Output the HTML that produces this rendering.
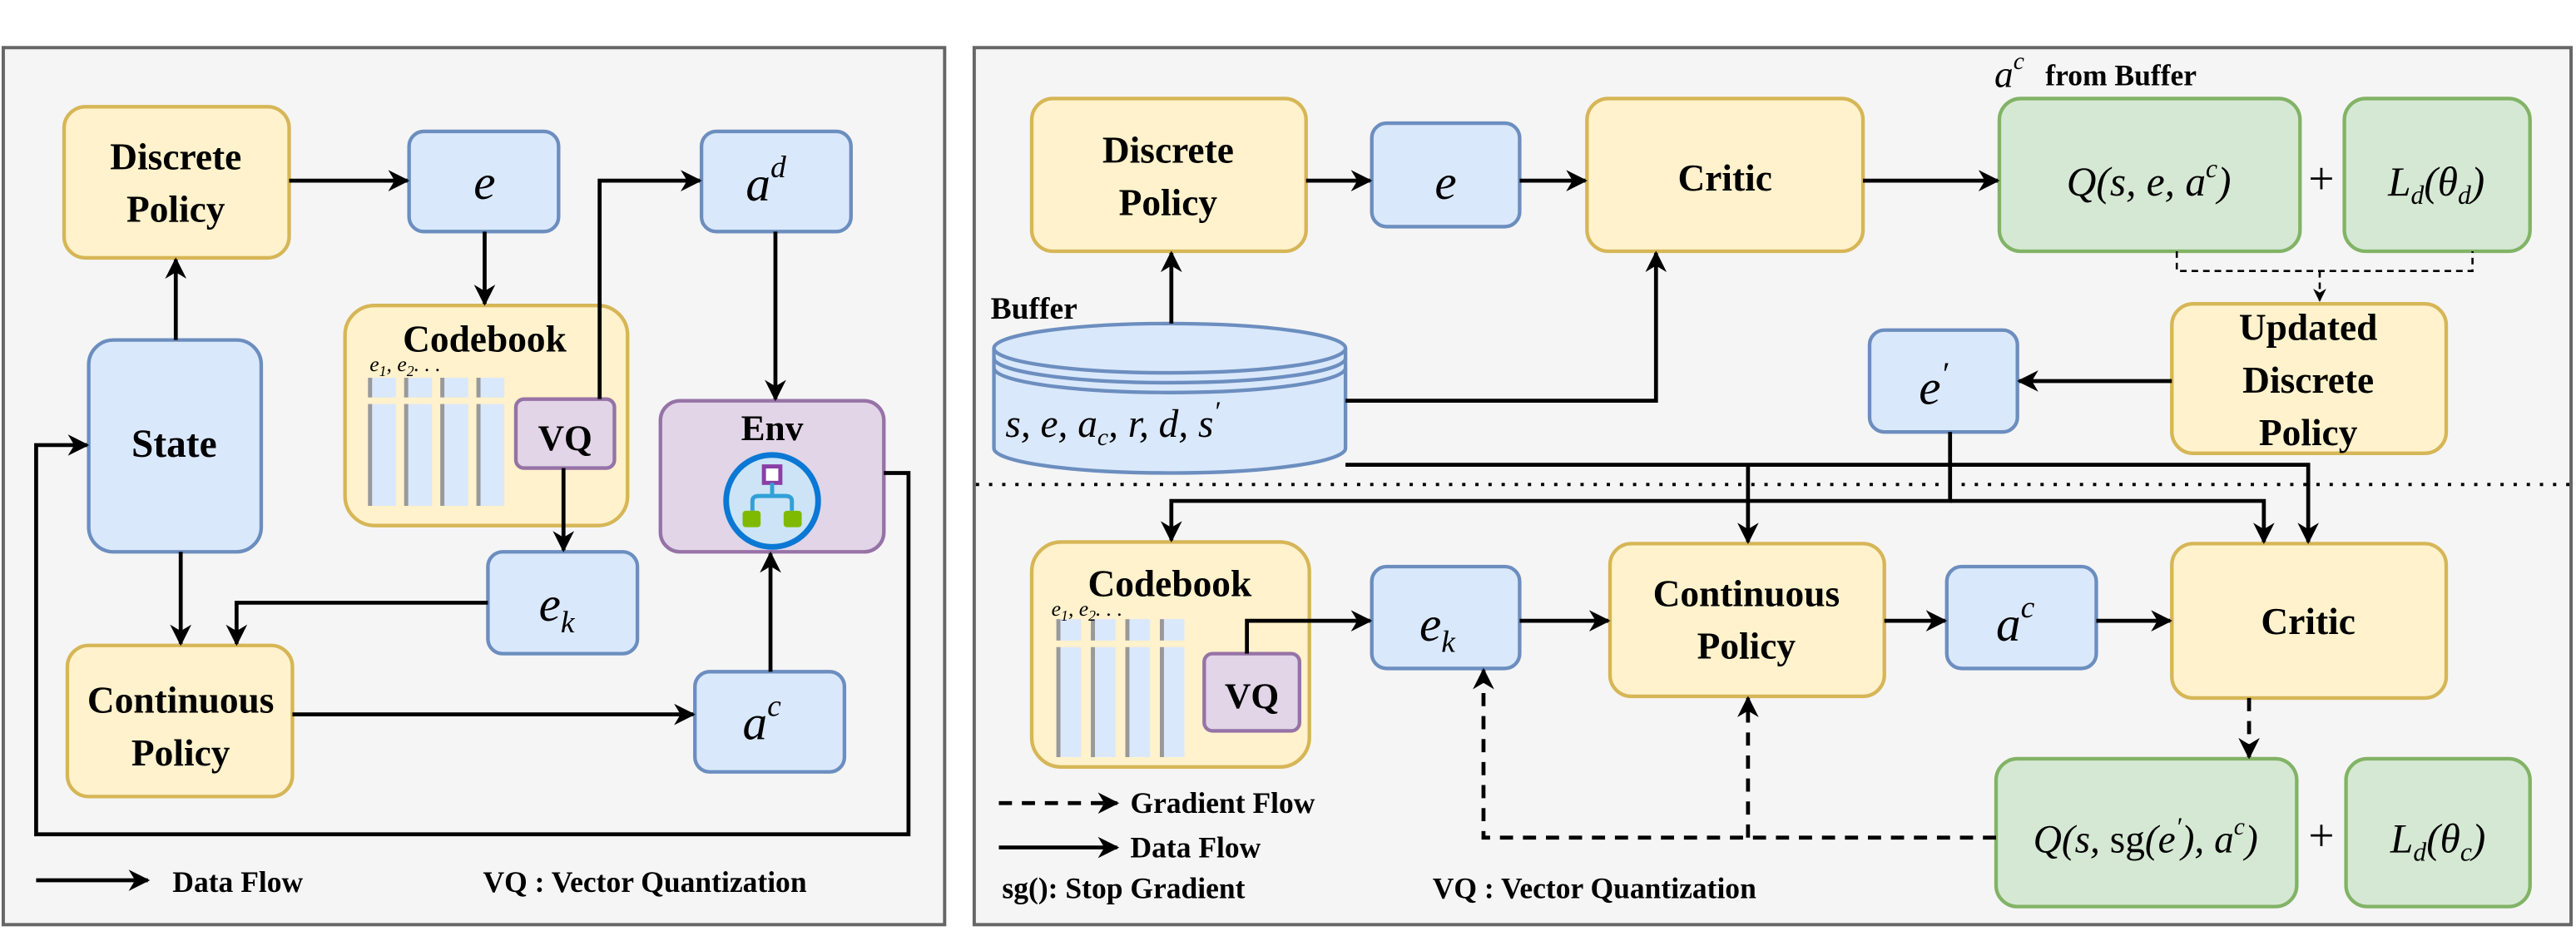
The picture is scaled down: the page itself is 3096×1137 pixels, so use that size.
<!DOCTYPE html>
<html><head><meta charset="utf-8"><style>
html,body{margin:0;padding:0;background:#fff;}
svg{display:block;}
svg text{font-family:"Liberation Serif","DejaVu Serif",serif;fill:#000;}
.b{font-weight:bold;}
.m{font-style:italic;}
</style></head><body>
<svg width="3096" height="1137" viewBox="0 0 1568 576" preserveAspectRatio="none" xmlns="http://www.w3.org/2000/svg" font-family="Liberation Serif, DejaVu Serif, serif">
<defs>
<marker id="ar2" viewBox="0 0 10 10" refX="9" refY="5" markerWidth="14" markerHeight="13" orient="auto" markerUnits="userSpaceOnUse">
<path d="M0,0 L10,5 L0,10 L3,5 Z" fill="#000"/></marker>
<marker id="ars" viewBox="0 0 10 10" refX="9" refY="5" markerWidth="8" markerHeight="8" orient="auto" markerUnits="userSpaceOnUse">
<path d="M0,0 L10,5 L0,10 L3,5 Z" fill="#000"/></marker>
</defs>
<rect width="1568" height="576" fill="#fff"/>
<rect x="2" y="29" width="573" height="534" fill="#f5f5f5" stroke="#666" stroke-width="2"/>
<rect x="593" y="29" width="972" height="534" fill="#f5f5f5" stroke="#666" stroke-width="2"/>

<g stroke-width="2.2">
<rect x="39" y="65" width="137" height="92" rx="13" fill="#fff2cc" stroke="#d6b656"/>
<rect x="249" y="80" width="91" height="61" rx="9" fill="#dae8fc" stroke="#6c8ebf"/>
<rect x="427" y="80" width="91" height="61" rx="9" fill="#dae8fc" stroke="#6c8ebf"/>
<rect x="210" y="186" width="172" height="134" rx="18" fill="#fff2cc" stroke="#d6b656"/>
<rect x="54" y="207" width="105" height="129" rx="15" fill="#dae8fc" stroke="#6c8ebf"/>
<rect x="402" y="244" width="136" height="92" rx="12" fill="#e1d5e7" stroke="#9673a6"/>
<rect x="297" y="336" width="91" height="62" rx="9" fill="#dae8fc" stroke="#6c8ebf"/>
<rect x="41" y="393" width="137" height="92" rx="13" fill="#fff2cc" stroke="#d6b656"/>
<rect x="423" y="409" width="91" height="61" rx="9" fill="#dae8fc" stroke="#6c8ebf"/>
</g>
<g>
<rect x="224" y="230" width="17" height="78" fill="#dae8fc"/><rect x="224" y="230" width="2.5" height="78" fill="#999"/>
<rect x="246" y="230" width="17" height="78" fill="#dae8fc"/><rect x="246" y="230" width="2.5" height="78" fill="#999"/>
<rect x="268" y="230" width="17" height="78" fill="#dae8fc"/><rect x="268" y="230" width="2.5" height="78" fill="#999"/>
<rect x="290" y="230" width="17" height="78" fill="#dae8fc"/><rect x="290" y="230" width="2.5" height="78" fill="#999"/>
<rect x="222" y="242" width="90" height="4" fill="#fff2cc"/>
</g>
<rect x="314" y="243" width="60" height="42" rx="5" fill="#e1d5e7" stroke="#9673a6" stroke-width="2.2"/>
<circle cx="470" cy="305" r="28" fill="#cce4f6" stroke="#0a78d4" stroke-width="3.5"/>
<rect x="465" y="284" width="10" height="10" fill="#fff" stroke="#8a3fa6" stroke-width="2.5"/>
<path d="M470,294 L470,302 M458,311 L458,305 Q458,302 462,302 L478,302 Q482,302 482,305 L482,311" stroke="#32a0d8" stroke-width="2.5" fill="none"/>
<rect x="452" y="311" width="11" height="10" rx="2" fill="#7fba00"/>
<rect x="477" y="311" width="11" height="10" rx="2" fill="#7fba00"/>

<g stroke="#000" stroke-width="2.4" fill="none" marker-end="url(#ar2)">
<path d="M176,110 L248,110"/>
<path d="M295,141 L295,185"/>
<path d="M365,243 L365,110 L426,110"/>
<path d="M472,141 L472,243"/>
<path d="M343,285 L343,335"/>
<path d="M110,336 L110,392"/>
<path d="M107,207 L107,158"/>
<path d="M297,367 L144,367 L144,392"/>
<path d="M178,435 L422,435"/>
<path d="M469,409 L469,337"/>
<path d="M538,288 L553,288 L553,508 L22,508 L22,271 L53,271"/>
<path d="M22,536 L90,536"/>
</g>
<g class="b" font-weight="bold" font-size="23" text-anchor="middle">
<text x="107" y="103">Discrete</text><text x="107" y="135">Policy</text>
<text x="295" y="214">Codebook</text>
<text x="344" y="274" font-size="22">VQ</text>
<text x="106" y="278" font-size="24">State</text>
<text x="470" y="268" font-size="22">Env</text>
<text x="110" y="434">Continuous</text><text x="110" y="466">Policy</text>
</g>
<text x="295" y="121" class="m" font-style="italic" font-size="30" text-anchor="middle">e</text>
<text x="454" y="122" class="m" font-style="italic" font-size="30">a<tspan font-size="19" dy="-14">d</tspan></text>
<text x="328" y="378" class="m" font-style="italic" font-size="30">e<tspan font-size="19" dy="7">k</tspan></text>
<text x="452" y="450" class="m" font-style="italic" font-size="30">a<tspan font-size="19" dy="-14">c</tspan></text>
<text x="225" y="226" class="m" font-style="italic" font-size="13">e<tspan font-size="9" dy="3">1</tspan><tspan dy="-3">, e</tspan><tspan font-size="9" dy="3">2</tspan><tspan dy="-3">. . .</tspan></text>
<text x="105" y="543" class="b" font-weight="bold" font-size="18">Data Flow</text>
<text x="294" y="543" class="b" font-weight="bold" font-size="18">VQ : Vector Quantization</text>

<g stroke-width="2.2">
<rect x="628" y="60" width="167" height="93" rx="13" fill="#fff2cc" stroke="#d6b656"/>
<rect x="835" y="75" width="90" height="63" rx="9" fill="#dae8fc" stroke="#6c8ebf"/>
<rect x="966" y="60" width="168" height="93" rx="13" fill="#fff2cc" stroke="#d6b656"/>
<rect x="1217" y="60" width="183" height="93" rx="13" fill="#d5e8d4" stroke="#82b366"/>
<rect x="1427" y="60" width="113" height="93" rx="13" fill="#d5e8d4" stroke="#82b366"/>
<rect x="1322" y="185" width="167" height="91" rx="13" fill="#fff2cc" stroke="#d6b656"/>
<rect x="1138" y="201" width="90" height="62" rx="9" fill="#dae8fc" stroke="#6c8ebf"/>
<rect x="628" y="330" width="169" height="137" rx="18" fill="#fff2cc" stroke="#d6b656"/>
<rect x="835" y="345" width="90" height="62" rx="9" fill="#dae8fc" stroke="#6c8ebf"/>
<rect x="980" y="331" width="167" height="93" rx="13" fill="#fff2cc" stroke="#d6b656"/>
<rect x="1185" y="345" width="91" height="62" rx="9" fill="#dae8fc" stroke="#6c8ebf"/>
<rect x="1322" y="331" width="167" height="94" rx="13" fill="#fff2cc" stroke="#d6b656"/>
<rect x="1215" y="462" width="183" height="90" rx="13" fill="#d5e8d4" stroke="#82b366"/>
<rect x="1428" y="462" width="112" height="90" rx="13" fill="#d5e8d4" stroke="#82b366"/>
</g>
<g stroke="#6c8ebf" stroke-width="2.2" fill="#dae8fc">
<path d="M605,212 L605,273 A107,15 0 0 0 819,273 L819,212"/>
<ellipse cx="712" cy="212" rx="107" ry="15"/>
<path d="M605,218 A107,15 0 0 0 819,218 M605,224 A107,15 0 0 0 819,224" fill="none"/>
</g>
<g>
<rect x="643" y="377" width="15" height="84" fill="#dae8fc"/><rect x="643" y="377" width="2.5" height="84" fill="#999"/>
<rect x="664" y="377" width="15" height="84" fill="#dae8fc"/><rect x="664" y="377" width="2.5" height="84" fill="#999"/>
<rect x="685" y="377" width="15" height="84" fill="#dae8fc"/><rect x="685" y="377" width="2.5" height="84" fill="#999"/>
<rect x="706" y="377" width="15" height="84" fill="#dae8fc"/><rect x="706" y="377" width="2.5" height="84" fill="#999"/>
<rect x="640" y="390" width="90" height="4" fill="#fff2cc"/>
</g>
<rect x="733" y="398" width="58" height="47" rx="5" fill="#e1d5e7" stroke="#9673a6" stroke-width="2.2"/>

<line x1="594" y1="295" x2="1565" y2="295" stroke="#000" stroke-width="2" stroke-dasharray="2,6"/>

<g stroke="#000" stroke-width="2.4" fill="none" marker-end="url(#ar2)">
<path d="M795,110 L834,110"/>
<path d="M925,110 L965,110"/>
<path d="M1134,110 L1216,110"/>
<path d="M713,197 L713,154"/>
<path d="M819,244 L1008,244 L1008,154"/>
<path d="M1322,232 L1229,232"/>
<path d="M819,283 L1405,283 L1405,330"/>
<path d="M1064,283 L1064,330"/>
<path d="M1187,263 L1187,305 L713,305 L713,329"/>
<path d="M1187,305 L1378,305 L1378,330"/>
<path d="M759,398 L759,378 L834,378"/>
<path d="M925,378 L979,378"/>
<path d="M1147,378 L1184,378"/>
<path d="M1276,378 L1321,378"/>
<path d="M608,516 L680,516"/>
</g>
<g stroke="#000" stroke-width="2.4" fill="none" stroke-dasharray="8,6" marker-end="url(#ar2)">
<path d="M1215,510 L903,510 L903,408"/>
<path d="M1064,510 L1064,425"/>
<path d="M1369,425 L1369,461"/>
<path d="M608,489 L680,489"/>
</g>
<path d="M1325,153 L1325,165 L1505,165 L1505,153" stroke="#000" stroke-width="1.3" fill="none" stroke-dasharray="4,3"/>
<path d="M1412,165 L1412,183" stroke="#000" stroke-width="1.3" fill="none" stroke-dasharray="4,3" marker-end="url(#ars)"/>

<g class="b" font-weight="bold" font-size="23" text-anchor="middle">
<text x="711" y="99">Discrete</text><text x="711" y="131">Policy</text>
<text x="1050" y="116">Critic</text>
<text x="1405" y="207">Updated</text><text x="1405" y="239">Discrete</text><text x="1405" y="271">Policy</text>
<text x="712" y="363">Codebook</text>
<text x="762" y="431" font-size="22">VQ</text>
<text x="1063" y="369">Continuous</text><text x="1063" y="401">Policy</text>
<text x="1405" y="386">Critic</text>
</g>
<text x="603" y="194" class="b" font-weight="bold" font-size="19">Buffer</text>
<text x="1214" y="53" class="m" font-style="italic" font-size="23">a<tspan font-size="15" dy="-11">c</tspan></text>
<text x="1245" y="52" class="b" font-weight="bold" font-size="18">from Buffer</text>
<text x="880" y="121" class="m" font-style="italic" font-size="30" text-anchor="middle">e</text>
<text x="1168" y="246" class="m" font-style="italic" font-size="30">e<tspan font-size="20" dy="-12">′</tspan></text>
<text x="864" y="390" class="m" font-style="italic" font-size="30">e<tspan font-size="19" dy="7">k</tspan></text>
<text x="1215" y="390" class="m" font-style="italic" font-size="30">a<tspan font-size="19" dy="-14">c</tspan></text>
<text x="612" y="266" class="m" font-style="italic" font-size="24">s, e, a<tspan font-size="15" dy="5">c</tspan><tspan dy="-5">, r, d, s</tspan><tspan font-size="17" dy="-10">′</tspan></text>
<text x="1308" y="119" class="m" font-style="italic" font-size="25" text-anchor="middle">Q(s, e, a<tspan font-size="16" dy="-11">c</tspan><tspan dy="11">)</tspan></text>
<text x="1413" y="118" font-size="28" text-anchor="middle">+</text>
<text x="1483" y="119" class="m" font-style="italic" font-size="25" text-anchor="middle">L<tspan font-size="16" dy="5">d</tspan><tspan dy="-5">(θ</tspan><tspan font-size="16" dy="5">d</tspan><tspan dy="-5">)</tspan></text>
<text x="1306" y="519" class="m" font-style="italic" font-size="24" text-anchor="middle">Q(s, <tspan font-style="normal">sg</tspan>(e<tspan font-size="16" dy="-10">′</tspan><tspan dy="10">), a</tspan><tspan font-size="15" dy="-11">c</tspan><tspan dy="11">)</tspan></text>
<text x="1413" y="518" font-size="28" text-anchor="middle">+</text>
<text x="1484" y="519" class="m" font-style="italic" font-size="25" text-anchor="middle">L<tspan font-size="16" dy="5">d</tspan><tspan dy="-5">(θ</tspan><tspan font-size="16" dy="5">c</tspan><tspan dy="-5">)</tspan></text>
<text x="640" y="375" class="m" font-style="italic" font-size="13">e<tspan font-size="9" dy="3">1</tspan><tspan dy="-3">, e</tspan><tspan font-size="9" dy="3">2</tspan><tspan dy="-3">. . .</tspan></text>
<g class="b" font-weight="bold" font-size="18">
<text x="688" y="495">Gradient Flow</text>
<text x="688" y="522">Data Flow</text>
<text x="610" y="547">sg(): Stop Gradient</text>
<text x="872" y="547">VQ : Vector Quantization</text>
</g>
</svg>
</body></html>
